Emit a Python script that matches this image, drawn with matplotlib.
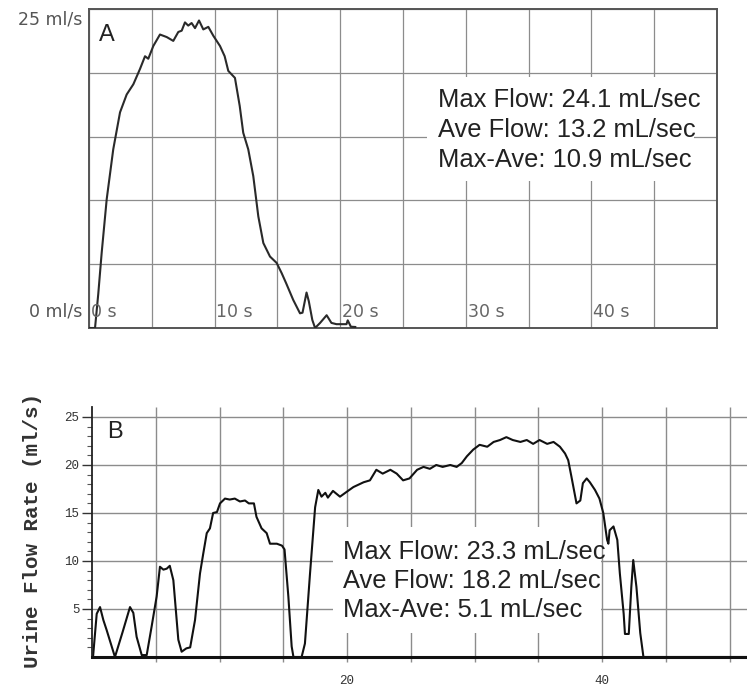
import numpy as np
import matplotlib
matplotlib.use("Agg")
import matplotlib.pyplot as plt
from matplotlib.patches import Rectangle

# panel A: flow curve (time in s, flow in ml/s)
time_a = [0.0, 0.48, 0.74, 1.01, 1.41, 1.93, 2.47, 3.0, 3.53, 4.06, 4.46, 4.72,
          5.12, 5.65, 6.19, 6.71, 7.11, 7.38, 7.64, 7.9, 8.17, 8.44, 8.76, 9.1,
          9.5, 9.9, 10.43, 10.8, 11.09, 11.62, 12.0, 12.28, 12.68, 13.08, 13.48,
          13.88, 14.41, 14.94, 15.34, 15.7, 16.26, 16.8, 17.0, 17.32, 17.5, 17.78,
          18.0, 18.4, 18.92, 19.3, 19.7, 20.5, 20.6, 20.85, 21.2]
flow_a = [0.0, 0.0, 2.7, 5.9, 10.1, 14.0, 16.9, 18.3, 19.1, 20.3, 21.3, 21.1,
          22.1, 23.0, 22.8, 22.5, 23.2, 23.3, 23.95, 23.7, 23.9, 23.5, 24.1, 23.4,
          23.6, 22.9, 22.1, 21.3, 20.15, 19.6, 17.4, 15.3, 14.0, 11.9, 8.75,
          6.66, 5.6, 5.1, 4.3, 3.5, 2.2, 1.15, 1.2, 2.78, 2.1, 0.63,
          0.0, 0.4, 1.0, 0.4, 0.3, 0.3, 0.6, 0.1, 0.08]
stats_a = ["Max Flow: 24.1 mL/sec", "Ave Flow: 13.2 mL/sec", "Max-Ave: 10.9 mL/sec"]
xlabels_a = [0, 10, 20, 30, 40]

# panel B
time_b = [0.08, 0.37, 0.63, 0.89, 1.15, 1.8, 2.4, 2.98, 3.24, 3.5, 3.9, 4.29,
          4.68, 5.07, 5.33, 5.6, 5.86, 6.1, 6.38, 6.77, 7.03, 7.4, 7.7, 8.08,
          8.47, 8.73, 9.0, 9.25, 9.5, 9.8, 10.04, 10.43, 10.8, 11.2, 11.6, 12.0,
          12.3, 12.7, 12.9, 13.3, 13.7, 13.96, 14.5, 14.9, 15.1, 15.4, 15.66,
          15.8, 16.44, 16.7, 17.1, 17.5, 17.75, 18.0, 18.3, 18.5, 18.9, 19.45,
          19.97, 20.5, 21.3, 21.8, 22.3, 22.8, 23.4, 23.9, 24.4, 24.9, 25.5,
          26.0, 26.5, 27.0, 27.5, 28.1, 28.6, 29.0, 29.4, 29.9, 30.4, 31.0,
          31.5, 32.0, 32.5, 33.0, 33.6, 34.1, 34.6, 35.1, 35.7, 36.2, 36.7,
          37.1, 37.35, 37.6, 38.0, 38.3, 38.5, 38.8, 39.05, 39.45, 39.8, 40.1,
          40.4, 40.5, 40.6, 40.9, 41.2, 41.4, 41.7, 41.8, 42.1, 42.3, 42.45,
          42.7, 43.0, 43.25, 51.4]
flow_b = [0.0, 4.5, 5.2, 3.85, 2.8, 0.0, 2.6, 5.2, 4.6, 2.1, 0.2, 0.2,
          3.2, 6.3, 9.4, 9.1, 9.2, 9.5, 8.0, 1.8, 0.55, 0.9, 1.0, 3.85,
          8.7, 10.8, 12.9, 13.4, 15.0, 15.1, 16.0, 16.5, 16.4, 16.5, 16.2, 16.3,
          16.0, 16.0, 14.6, 13.4, 12.9, 11.8, 11.8, 11.6, 11.2, 6.3, 1.1,
          0.0, 0.0, 1.4, 8.7, 15.6, 17.4, 16.7, 17.1, 16.6, 17.3, 16.7,
          17.2, 17.7, 18.2, 18.4, 19.5, 19.1, 19.5, 19.1, 18.4, 18.6, 19.5,
          19.8, 19.6, 20.0, 19.8, 20.0, 19.8, 20.2, 20.9, 21.6, 22.1, 21.9,
          22.4, 22.6, 22.9, 22.6, 22.4, 22.6, 22.2, 22.6, 22.2, 22.4, 21.9,
          21.2, 20.5, 18.8, 16.0, 16.3, 18.1, 18.6, 18.2, 17.4, 16.5, 15.0,
          12.2, 11.8, 13.2, 13.6, 12.2, 8.7, 4.5, 2.4, 2.4, 7.3, 10.1,
          7.3, 2.5, 0.0, 0.0]
stats_b = ["Max Flow: 23.3 mL/sec", "Ave Flow: 18.2 mL/sec", "Max-Ave: 5.1 mL/sec"]
yticks_b = [5, 10, 15, 20, 25]
xticks_b = [20, 40]

W, H = 747, 689
fig = plt.figure(figsize=(W / 100, H / 100), dpi=100)
fig.patch.set_facecolor("white")

sans = "Liberation Sans"
mono = "Liberation Mono"

# ---------------- panel A ----------------
ax_a = fig.add_axes([89 / W, (H - 328) / H, 628 / W, 319 / H])
ax_a.set_xlim(0, 50)
ax_a.set_ylim(0, 25)
ax_a.set_xticks(np.arange(0, 51, 5))
ax_a.set_yticks(np.arange(0, 26, 5))
ax_a.tick_params(length=0, labelbottom=False, labelleft=False)
ax_a.grid(True, color="#8c8c8c", linewidth=0.9)
for sp in ax_a.spines.values():
    sp.set_color("#555555")
    sp.set_linewidth(1.4)

ax_a.add_patch(Rectangle((26.9, 11.5), 21.3, 8.2, facecolor="white",
                         edgecolor="none", zorder=1.8))
ax_a.plot(time_a, flow_a, color="#2a2a2a", linewidth=1.5, zorder=3)

for i, line in enumerate(stats_a):
    ax_a.text(27.8, 17.9 - i * 2.36, line, fontsize=18.4, family=sans,
              color="#222222", va="center", ha="left", zorder=4)
ax_a.text(0.8, 23.0, "A", fontsize=17, family=sans, color="#222222",
          va="center", ha="left")

ax_a.text(-0.5, 24.2, "25 ml/s", fontsize=12.5, color="#555555",
          ha="right", va="center", clip_on=False)
ax_a.text(-0.5, 1.26, "0 ml/s", fontsize=12.5, color="#555555",
          ha="right", va="center", clip_on=False)
for s in xlabels_a:
    ax_a.text(s + 0.15, 1.26, f"{s} s", fontsize=12.5, color="#666666",
              ha="left", va="center")

# ---------------- panel B ----------------
x_right = (W - 92) / 12.75
ax_b = fig.add_axes([92 / W, 32 / H, (W - 92) / W, 250 / H])
ax_b.set_xlim(0, x_right)
ax_b.set_ylim(0, 26.04)
for side in ["top", "right", "bottom"]:
    ax_b.spines[side].set_visible(False)
ax_b.spines["left"].set_color("#222222")
ax_b.spines["left"].set_linewidth(1.3)

ax_b.hlines(yticks_b, 0, x_right, color="#8c8c8c", linewidth=1.0, zorder=1)
ax_b.vlines(np.arange(5, 51, 5), -0.5, 26.04, color="#8c8c8c", linewidth=1.0,
            zorder=1, clip_on=False)
ax_b.axhline(0, color="#111111", linewidth=2.2, zorder=3, clip_on=False)

ax_b.set_yticks(yticks_b)
ax_b.set_yticks(np.arange(1, 26, 1), minor=True)
ax_b.set_yticklabels([str(v) for v in yticks_b], family=mono, fontsize=9,
                     color="#333333")
ax_b.tick_params(axis="y", which="major", direction="out", length=7,
                 width=1.0, pad=2, color="#333333")
ax_b.tick_params(axis="y", which="minor", direction="out", length=3.5,
                 width=0.8, color="#555555")
ax_b.set_xticks(xticks_b)
ax_b.set_xticklabels([str(v) for v in xticks_b], family=mono, fontsize=9,
                     color="#333333")
ax_b.tick_params(axis="x", length=0, pad=13)

ax_b.add_patch(Rectangle((18.9, 2.5), 21.0, 11.0, facecolor="white",
                         edgecolor="none", zorder=1.5))
for i, line in enumerate(stats_b):
    ax_b.text(19.7, 10.94 - i * 3.0, line, fontsize=18.4, family=sans,
              color="#222222", va="center", ha="left", zorder=2)
ax_b.plot(time_b, flow_b, color="#111111", linewidth=1.5, zorder=2.5)
ax_b.text(1.18, 23.4, "B", fontsize=17, family=sans, color="#222222",
          va="center", ha="left")

fig.text(33 / W, (H - 530) / H, "Urine Flow Rate (ml/s)", rotation=90,
         family=mono, fontsize=15, color="#333333", ha="center", va="center",
         weight="bold")

fig.savefig("out.png", dpi=100)
